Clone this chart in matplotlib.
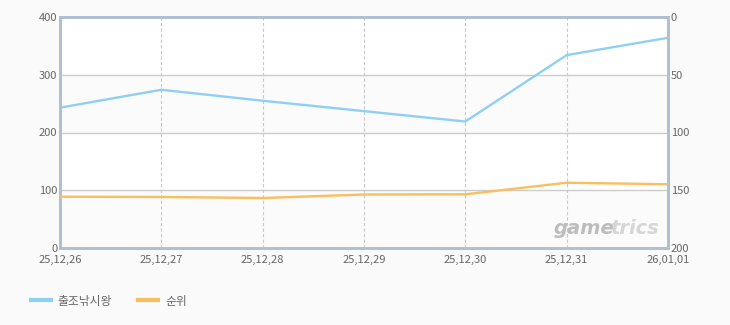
import matplotlib
matplotlib.use("Agg")
import matplotlib.pyplot as plt
from matplotlib.lines import Line2D

plt.rcParams['font.family'] = ['Noto Sans CJK KR', 'DejaVu Sans']

dates = ["25,12,26", "25,12,27", "25,12,28", "25,12,29", "25,12,30", "25,12,31", "26,01,01"]
series_blue = [243, 274, 255, 237, 219, 334, 364]   # 출조낚시왕 (left axis)
series_rank = [155.6, 155.8, 156.7, 153.7, 153.5, 143.5, 144.8]  # 순위 (right axis, inverted)
left_ticks = [0, 100, 200, 300, 400]
right_ticks = [0, 50, 100, 150, 200]
legend_labels = ["출조낚시왕", "순위"]

BLUE = "#8fd0f2"
ORANGE = "#fbbd5e"
SPINE = "#b0c0d2"
TXT = "#666666"

fig = plt.figure(figsize=(7.3, 3.25), dpi=100, facecolor="#fafafa")
ax = fig.add_axes([60/730, 1-248/325, 608/730, 231/325])
ax.set_facecolor("#fbfbfb")
x = list(range(len(dates)))

# alternating bands
for lo, hi, c in [(0, 100, "#fbfbfb"), (100, 200, "#ffffff"), (200, 300, "#fbfbfb"), (300, 400, "#ffffff")]:
    ax.axhspan(lo, hi, color=c, zorder=0, lw=0)

ax.set_xlim(0, len(dates)-1)
ax.set_ylim(0, 400)
ax.set_yticks(left_ticks)
ax.set_xticks(x)
ax.set_xticklabels(dates)
for v in left_ticks[1:-1]:
    ax.axhline(v, color="#cccccc", lw=1, zorder=1)
for xi in x[1:-1]:
    ax.axvline(xi, color="#c8c8c8", lw=0.8, ls=(0, (3, 2)), zorder=1)

ax.plot(x, series_blue, color=BLUE, lw=1.7, zorder=3, solid_capstyle="round")

ax2 = ax.twinx()
ax2.set_ylim(200, 0)
ax2.set_yticks(right_ticks)
ax2.plot(x, series_rank, color=ORANGE, lw=1.7, zorder=3, solid_capstyle="round")

for a in (ax, ax2):
    for s in a.spines.values():
        s.set_color(SPINE)
        s.set_linewidth(2)
    a.tick_params(length=0, labelsize=8, colors=TXT, pad=2)
ax.tick_params(axis="x", pad=5)

# watermark: "game" darker, "trics" lighter
fig.canvas.draw()
r = fig.canvas.get_renderer()
t2 = ax.text(0.985, 0.045, "trics", transform=ax.transAxes, ha="right", va="bottom",
             fontsize=14, fontweight="bold", style="italic", color="#d6d6d6",
             family="DejaVu Sans", zorder=2)
bb = t2.get_window_extent(renderer=r)
inv = ax.transAxes.inverted()
x0 = inv.transform((bb.x0 + 4, bb.y0))[0]
ax.text(x0, 0.045, "game", transform=ax.transAxes, ha="right", va="bottom",
        fontsize=14, fontweight="bold", style="italic", color="#bdbdbd",
        family="DejaVu Sans", zorder=2)

handles = [Line2D([], [], color=BLUE, lw=3), Line2D([], [], color=ORANGE, lw=3)]
fig.legend(handles, legend_labels, loc="center left", bbox_to_anchor=(20/730, 1-301/325),
           ncol=2, frameon=False, fontsize=8.5, handlelength=1.7, handletextpad=0.6,
           columnspacing=2.2, labelcolor=TXT)

fig.savefig("out.png", dpi=100, facecolor=fig.get_facecolor())
